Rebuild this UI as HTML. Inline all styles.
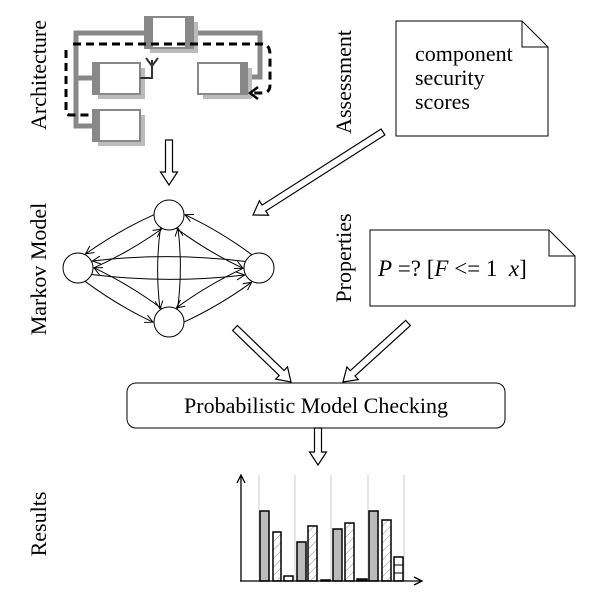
<!DOCTYPE html>
<html><head><meta charset="utf-8"><style>
html,body{margin:0;padding:0;background:#fff;}
svg{display:block;}
svg text{font-family:"Liberation Serif","DejaVu Serif","Times New Roman",Times,serif;}
</style></head><body>
<svg id="s" width="615" height="595" viewBox="0 0 615 595" xmlns="http://www.w3.org/2000/svg">
<defs>
<marker id="ah" markerWidth="10" markerHeight="10" refX="9" refY="5" orient="auto" markerUnits="userSpaceOnUse">
<path d="M1,1 L9,5 L1,9" fill="none" stroke="#000" stroke-width="1"/>
</marker>
<pattern id="hat" width="6" height="6" patternUnits="userSpaceOnUse" patternTransform="rotate(45)">
<rect width="6" height="6" fill="#fff"/><line x1="0" y1="0" x2="0" y2="6" stroke="#888" stroke-width="1"/>
</pattern>
</defs>

<g>
<polyline points="145,33 76,33 76,126 93,126" fill="none" stroke="#888" stroke-width="5"/>
<line x1="76" y1="78" x2="93" y2="78" stroke="#888" stroke-width="5"/>
<polyline points="193,33 260,33 260,77 247,77" fill="none" stroke="#888" stroke-width="5"/>
<rect x="150" y="22" width="48" height="31" fill="#bbb"/>
<rect x="145" y="17" width="48" height="31" fill="#fff" stroke="#888" stroke-width="2"/>
<rect x="145" y="17" width="8" height="31" fill="#888"/>
<rect x="185" y="17" width="8" height="31" fill="#888"/>
<rect x="98" y="68" width="47" height="31" fill="#bbb"/>
<rect x="93" y="63" width="47" height="31" fill="#fff" stroke="#888" stroke-width="2"/>
<rect x="93" y="63" width="7" height="31" fill="#888"/>
<rect x="203" y="68" width="49" height="31" fill="#bbb"/>
<rect x="198" y="63" width="49" height="31" fill="#fff" stroke="#888" stroke-width="2"/>
<rect x="240" y="63" width="7" height="31" fill="#888"/>
<rect x="98" y="115" width="47" height="31" fill="#bbb"/>
<rect x="93" y="110" width="47" height="31" fill="#fff" stroke="#888" stroke-width="2"/>
<rect x="93" y="110" width="7" height="31" fill="#888"/>
<polyline points="140,78 152,78 152,60" fill="none" stroke="#333" stroke-width="2"/>
<path d="M146,58 L152,66 L158,58" fill="none" stroke="#333" stroke-width="2"/>
<path d="M73,44 L262,44 Q270,44 270,55 L270,85 Q270,93 262,93 L250,93" fill="none" stroke="#000" stroke-width="3" stroke-dasharray="8,5"/>
<path d="M258,87 L250,93 L258,99" fill="none" stroke="#000" stroke-width="2.5"/>
<path d="M66,50 L66,112 Q66,115 70,115 L93,115" fill="none" stroke="#000" stroke-width="3" stroke-dasharray="8,5"/>
</g>

<path d="M396,21 L522,21 L548,47 L548,136 L396,136 Z" fill="#fff" stroke="#000" stroke-width="1"/>
<path d="M522,21 L522,47 L548,47" fill="none" stroke="#000" stroke-width="1"/>
<text x="415" y="61" font-size="22">component</text>
<text x="415" y="85" font-size="22">security</text>
<text x="415" y="109" font-size="22">scores</text>

<path d="M370,230 L549,230 L575,256 L575,306 L370,306 Z" fill="#fff" stroke="#000" stroke-width="1"/>
<path d="M549,230 L549,256 L575,256" fill="none" stroke="#000" stroke-width="1"/>
<text x="378" y="276" font-size="23" xml:space="preserve"><tspan font-style="italic">P</tspan> =? [<tspan font-style="italic">F</tspan> &lt;= 1  <tspan font-style="italic">x</tspan>]</text>

<text transform="translate(46,75) rotate(-90)" text-anchor="middle" font-size="22">Architecture</text>
<text transform="translate(351,82) rotate(-90)" text-anchor="middle" font-size="22">Assessment</text>
<text transform="translate(46,269) rotate(-90)" text-anchor="middle" font-size="22">Markov Model</text>
<text transform="translate(351,258) rotate(-90)" text-anchor="middle" font-size="22">Properties</text>
<text transform="translate(46,524) rotate(-90)" text-anchor="middle" font-size="22">Results</text>

<rect x="127" y="383" width="378" height="45" rx="9" fill="#fff" stroke="#000" stroke-width="1"/>
<text x="316" y="413" text-anchor="middle" font-size="22">Probabilistic Model Checking</text>

<g id="mk" fill="none" stroke="#000" stroke-width="1"></g>
<g id="ar" fill="#fff" stroke="#000" stroke-width="1.2"></g>

<g stroke="#ccc" stroke-width="1">
<line x1="259" y1="475" x2="259" y2="581"/><line x1="295" y1="475" x2="295" y2="581"/>
<line x1="331" y1="475" x2="331" y2="581"/><line x1="368" y1="475" x2="368" y2="581"/>
<line x1="404" y1="475" x2="404" y2="581"/>
</g>
<g stroke="#000" stroke-width="1.5">
<rect x="260" y="511" width="9" height="70" fill="#bbb"/>
<rect x="273" y="532" width="8" height="49" fill="url(#hat)"/>
<rect x="284" y="576" width="9" height="5" fill="#fff"/>
<rect x="297" y="542" width="9" height="39" fill="#bbb"/>
<rect x="308" y="526" width="9" height="55" fill="url(#hat)"/>
<rect x="321" y="580" width="9" height="1" fill="#fff"/>
<rect x="333" y="529" width="9" height="52" fill="#bbb"/>
<rect x="345" y="523" width="9" height="58" fill="url(#hat)"/>
<rect x="357" y="579" width="10" height="2" fill="#444"/>
<rect x="369" y="511" width="9" height="70" fill="#bbb"/>
<rect x="382" y="520" width="9" height="61" fill="url(#hat)"/>
<rect x="394" y="557" width="9" height="24" fill="#fff"/>
<line x1="394" y1="565" x2="403" y2="565" stroke-width="1"/>
<line x1="394" y1="573" x2="403" y2="573" stroke-width="1"/>
</g>
<g stroke="#000" stroke-width="1.3" fill="none">
<line x1="241" y1="581" x2="241" y2="476"/>
<path d="M237,483 L241,475 L245,483"/>
<line x1="240" y1="581" x2="421" y2="581"/>
<path d="M414,577 L422,581 L414,585"/>
</g>
</svg>
<script>
var NS="http://www.w3.org/2000/svg";
function el(p,t,a){var e=document.createElementNS(NS,t);for(var k in a)e.setAttribute(k,a[k]);document.getElementById(p).appendChild(e);return e;}
function harrow(x1,y1,x2,y2){
 var dx=x2-x1,dy=y2-y1,L=Math.hypot(dx,dy),ux=dx/L,uy=dy/L,px=-uy,py=ux;
 var w=3.5,hw=8.5,hl=13;
 var bx=x2-ux*hl,by=y2-uy*hl;
 var pts=[[x1+px*w,y1+py*w],[bx+px*w,by+py*w],[bx+px*hw,by+py*hw],[x2,y2],[bx-px*hw,by-py*hw],[bx-px*w,by-py*w],[x1-px*w,y1-py*w]];
 el("ar","polygon",{points:pts.map(function(p){return p[0].toFixed(1)+","+p[1].toFixed(1)}).join(" ")});
}
harrow(169,140,169,185);
harrow(383,132,253,215);
harrow(235,328,291,382);
harrow(408,323,343,382);
harrow(318,428,318,465);
var N={t:[169,215],l:[78,268],r:[259,268],b:[169,322]},R=15;
for(var k in N)el("mk","circle",{cx:N[k][0],cy:N[k][1],r:R});
function arc(a,b,bend,ang){
 var A=N[a],B=N[b],dx=B[0]-A[0],dy=B[1]-A[1],L=Math.hypot(dx,dy),ux=dx/L,uy=dy/L,px=-uy,py=ux;
 ang=ang*Math.sign(bend);
 function rot(x,y,t){return [x*Math.cos(t)-y*Math.sin(t),x*Math.sin(t)+y*Math.cos(t)];}
 var s=rot(ux,uy,ang),e=rot(-ux,-uy,-ang);
 var sx=A[0]+s[0]*R,sy=A[1]+s[1]*R,ex=B[0]+e[0]*(R+1),ey=B[1]+e[1]*(R+1);
 var cx=(A[0]+B[0])/2+px*bend,cy=(A[1]+B[1])/2+py*bend;
 el("mk","path",{d:"M"+sx.toFixed(1)+","+sy.toFixed(1)+" Q"+cx.toFixed(1)+","+cy.toFixed(1)+" "+ex.toFixed(1)+","+ey.toFixed(1),"marker-end":"url(#ah)"});
}
var pairs=[["l","t",12,0.55],["t","l",12,0.55],["t","r",12,0.55],["r","t",12,0.55],["l","r",16,0.45],["r","l",16,0.45],["t","b",14,0.6],["b","t",14,0.6],["b","l",12,0.55],["l","b",12,0.55],["r","b",12,0.55],["b","r",12,0.55]];
pairs.forEach(function(p){arc(p[0],p[1],p[2],p[3]);});
</script>
</body></html>
